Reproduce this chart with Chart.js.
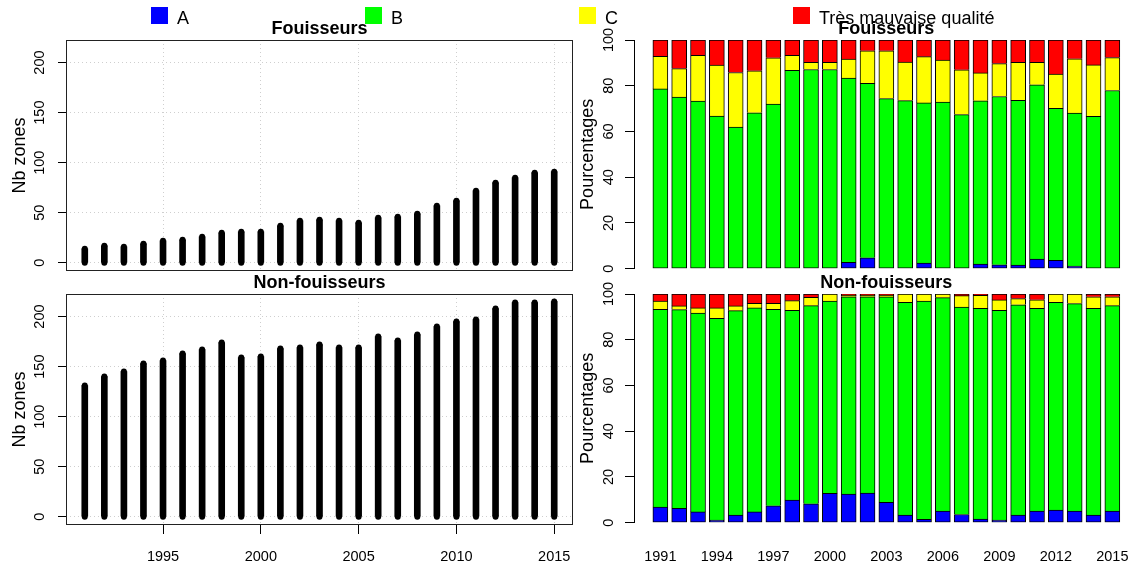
<!DOCTYPE html>
<html>
<head>
<meta charset="utf-8">
<script src="https://cdn.jsdelivr.net/npm/chart.js@4.4.1/dist/chart.umd.min.js"></script>
<style>
  body { margin: 0; background: #fff; width: 1147px; height: 564px; position: relative; overflow: hidden;
         font-family: "Liberation Sans", Arial, sans-serif; }
  canvas { position: absolute; }
  .sq { position: absolute; top: 7px; width: 17px; height: 17px; }
  .lt { position: absolute; top: 8px; font-size: 18px; line-height: 20px; color: #000; white-space: nowrap; }
</style>
</head>
<body>
<canvas id="countTop" width="580" height="280" style="left:0;top:0"></canvas>
<canvas id="countBottom" width="580" height="310" style="left:0;top:254px"></canvas>
<canvas id="pctTop" width="567" height="280" style="left:580px;top:0"></canvas>
<canvas id="pctBottom" width="567" height="310" style="left:580px;top:254px"></canvas>
<div id="legend"></div>
<script>
// years and tick labels
const years = [1991, 1992, 1993, 1994, 1995, 1996, 1997, 1998, 1999, 2000, 2001, 2002, 2003,
  2004, 2005, 2006, 2007, 2008, 2009, 2010, 2011, 2012, 2013, 2014, 2015];
const countXTicks = [1995, 2000, 2005, 2010, 2015];
const countYTicks = [0, 50, 100, 150, 200];
const pctXTicks = [1991, 1994, 1997, 2000, 2003, 2006, 2009, 2012, 2015];
const pctYTicks = [0, 20, 40, 60, 80, 100];

// number of zones per year
const nbFouisseurs = [14, 17, 16, 19, 22, 23, 26, 30, 31, 31, 37, 42, 43, 42, 40, 45, 46, 49, 57, 62, 72, 80, 85, 90, 91];
const nbNonFouisseurs = [131, 140, 145, 153, 156, 163, 167, 174, 159, 160, 168, 169, 172, 169, 169, 180, 176, 182, 190, 195, 197, 208, 214, 214, 215];

// quality classes
const classLabels = ["A", "B", "C", "Très mauvaise qualité"];
const classColors = ["#0000ff", "#00ff00", "#ffff00", "#ff0000"];

// percentages, Fouisseurs
const fouA = [0, 0, 0, 0, 0, 0, 0, 0, 0, 0, 2.8, 4.8, 0, 0, 2.5, 0, 0, 2.0, 1.7, 1.6, 4.2, 3.7, 1.2, 0, 0];
const fouB = [78.6, 75, 73.3, 66.7, 61.9, 68.2, 72, 86.7, 87.1, 87.1, 80.5, 76.2, 74.4, 73.5, 70, 72.9, 67.4, 71.4, 73.6, 72.0, 76.2, 66.4, 66.9, 66.6, 77.9];
const fouC = [14.3, 12.5, 20, 22.3, 23.9, 18.3, 20.2, 6.6, 3.1, 3.1, 8.4, 14.3, 20.9, 16.8, 20.2, 18.3, 19.6, 12.2, 14.4, 16.6, 9.8, 15, 23.7, 22.5, 14.4];
const fouD = [7.1, 12.5, 6.7, 11.0, 14.2, 13.5, 7.8, 6.7, 9.8, 9.8, 8.3, 4.7, 4.7, 9.7, 7.3, 8.8, 13, 14.4, 10.3, 9.8, 9.8, 14.9, 8.2, 10.9, 7.7];

// percentages, Non-fouisseurs
const nonA = [6.8, 6.3, 4.7, 1.2, 3.3, 4.7, 7.4, 9.9, 8.3, 12.8, 12.5, 13.0, 8.9, 3.3, 1.5, 5.1, 3.6, 1.6, 1.2, 3.3, 5.1, 5.5, 5.1, 3.3, 5.1];
const nonB = [86.5, 86.9, 87.0, 88.2, 89.4, 89.2, 85.9, 83.0, 86.6, 84.1, 86.3, 85.8, 89.9, 93.1, 95.4, 93.3, 90.7, 92.1, 91.7, 92.0, 88.6, 90.9, 90.7, 90.4, 89.8];
const nonC = [3.6, 1.6, 2.2, 4.5, 2.1, 2.0, 2.6, 4.2, 3.6, 3.1, 0.6, 0.6, 0.6, 3.6, 3.1, 1.6, 5.0, 5.7, 4.5, 2.7, 3.8, 3.6, 4.2, 5.1, 3.9];
const nonD = [3.1, 5.2, 6.1, 6.1, 5.2, 4.1, 4.1, 2.9, 1.5, 0, 0.6, 0.6, 0.6, 0, 0, 0, 0.7, 0.6, 2.6, 2.0, 2.5, 0, 0, 1.2, 1.2];

const FONT = '"Liberation Sans", Arial, sans-serif';
Chart.defaults.font.family = FONT;
Chart.defaults.color = "#000";

// legend across the top
const legend = document.getElementById("legend");
classLabels.forEach((lab, k) => {
  const left = 151 + k * 214;
  const sq = document.createElement("div");
  sq.className = "sq";
  sq.style.left = left + "px";
  sq.style.background = classColors[k];
  legend.appendChild(sq);
  const t = document.createElement("div");
  t.className = "lt";
  t.style.left = (left + 26) + "px";
  t.textContent = lab;
  legend.appendChild(t);
});

// y tick labels turned like R (las = 0)
const rotatedLabels = {
  id: "rotatedLabels",
  afterDraw(chart, args, opts) {
    const s = chart.scales.y;
    const ctx = chart.ctx;
    ctx.save();
    ctx.font = "14.5px " + FONT;
    ctx.fillStyle = "#000";
    ctx.textAlign = "center";
    ctx.textBaseline = "middle";
    s.ticks.forEach(t => {
      ctx.save();
      ctx.translate(opts.x, s.getPixelForValue(t.value));
      ctx.rotate(-Math.PI / 2);
      ctx.fillText(String(t.value), 0, 0);
      ctx.restore();
    });
    ctx.restore();
  }
};

// box around the plot region
const boxPlugin = {
  id: "box",
  afterDraw(chart, args, opts) {
    if (!opts.show) return;
    const a = chart.chartArea;
    const ctx = chart.ctx;
    ctx.save();
    ctx.strokeStyle = "#222";
    ctx.lineWidth = 1;
    ctx.strokeRect(Math.round(a.left) + 0.5, Math.round(a.top) + 0.5,
      Math.round(a.right - a.left) - 1, Math.round(a.bottom - a.top) - 1);
    ctx.restore();
  }
};

function titleOpts(text) {
  return {
    display: true, text: text, fullSize: false, color: "#000",
    font: { size: 18, weight: "bold" }, padding: { top: 18.4, bottom: 0 }
  };
}

// fixed axis sizes so the plot regions line up with the original
function fixX(h) {
  return s => { s.height = h; s.paddingLeft = 0; s.paddingRight = 0; };
}
function fixY(w) {
  return s => { s.width = w; s.paddingTop = 0; s.paddingBottom = 0; };
}

function countChart(id, title, counts, showX) {
  return new Chart(document.getElementById(id), {
    type: "bar",
    data: {
      datasets: [
        {
          data: years.map((yr, i) => ({ x: yr, y: [0, counts[i]] })),
          backgroundColor: "#000",
          barThickness: 6,
          order: 2
        },
        {
          type: "scatter",
          data: years.map((yr, i) => ({ x: yr, y: counts[i] })).concat(years.map(yr => ({ x: yr, y: 0 }))),
          backgroundColor: "#000",
          pointRadius: 3,
          borderWidth: 0,
          order: 1
        }
      ]
    },
    options: {
      responsive: false,
      animation: false,
      events: [],
      layout: { padding: { left: 0, right: 7, top: 0, bottom: 0 } },
      plugins: {
        legend: { display: false },
        tooltip: { enabled: false },
        title: titleOpts(title),
        rotatedLabels: { x: 40 },
        box: { show: true }
      },
      scales: {
        x: {
          type: "linear", min: 1990.04, max: 2015.96, offset: false, z: 1,
          afterBuildTicks: s => { s.ticks = countXTicks.map(v => ({ value: v })); },
          afterFit: fixX(showX ? 39 : 9),
          ticks: { display: showX, font: { size: 14.5 }, padding: 14, maxRotation: 0, autoSkip: false, callback: v => String(v) },
          grid: { offset: false, color: "#cfcfcf", drawTicks: showX, tickLength: 9, tickColor: "#000", tickBorderDash: [] },
          border: { display: false, dash: [1, 3] }
        },
        y: {
          min: -8.2, max: 222.5, z: 1,
          afterBuildTicks: s => { s.ticks = countYTicks.map(v => ({ value: v })); },
          afterFit: fixY(66),
          ticks: { display: false },
          title: { display: true, text: "Nb zones", font: { size: 18 }, padding: { top: 9.2, bottom: 0 } },
          grid: { color: "#cfcfcf", tickLength: 8, tickColor: "#000", tickBorderDash: [] },
          border: { display: false, dash: [1, 3] }
        }
      }
    },
    plugins: [rotatedLabels, boxPlugin]
  });
}

function pctChart(id, title, series, showX) {
  return new Chart(document.getElementById(id), {
    type: "bar",
    data: {
      datasets: classLabels.map((lab, k) => ({
        label: lab,
        data: years.map((yr, i) => ({ x: yr, y: series[k][i] })),
        backgroundColor: classColors[k],
        borderColor: "#000",
        borderWidth: 1,
        borderSkipped: ctx => series.slice(0, k).some(s => s[ctx.dataIndex] > 0) ? "start" : false,
        barThickness: 15
      }))
    },
    options: {
      responsive: false,
      animation: false,
      events: [],
      layout: { padding: { left: 0, right: 8.3, top: 0, bottom: 0 } },
      plugins: {
        legend: { display: false },
        tooltip: { enabled: false },
        title: titleOpts(title),
        rotatedLabels: { x: 29 },
        box: { show: false }
      },
      scales: {
        x: {
          type: "linear", min: 1989.6, max: 2016.4, offset: false, stacked: true,
          afterBuildTicks: s => { s.ticks = pctXTicks.map(v => ({ value: v })); },
          afterFit: fixX(showX ? 41.3 : 11.3),
          ticks: { display: showX, font: { size: 14.5 }, padding: 25.5, maxRotation: 0, autoSkip: false, callback: v => String(v) },
          grid: { display: false, drawTicks: false, offset: false },
          border: { display: false }
        },
        y: {
          min: 0, max: 100, stacked: true,
          afterBuildTicks: s => { s.ticks = pctYTicks.map(v => ({ value: v })); },
          afterFit: fixY(54),
          ticks: { display: false },
          title: { display: true, text: "Pourcentages", font: { size: 18 }, padding: { top: -2.5, bottom: 0 } },
          grid: { drawOnChartArea: false, tickLength: 9, tickColor: "#000" },
          border: { display: true, color: "#000", width: 1 }
        }
      }
    },
    plugins: [rotatedLabels, boxPlugin]
  });
}

countChart("countTop", "Fouisseurs", nbFouisseurs, false);
countChart("countBottom", "Non-fouisseurs", nbNonFouisseurs, true);
pctChart("pctTop", "Fouisseurs", [fouA, fouB, fouC, fouD], false);
pctChart("pctBottom", "Non-fouisseurs", [nonA, nonB, nonC, nonD], true);
</script>
</body>
</html>
